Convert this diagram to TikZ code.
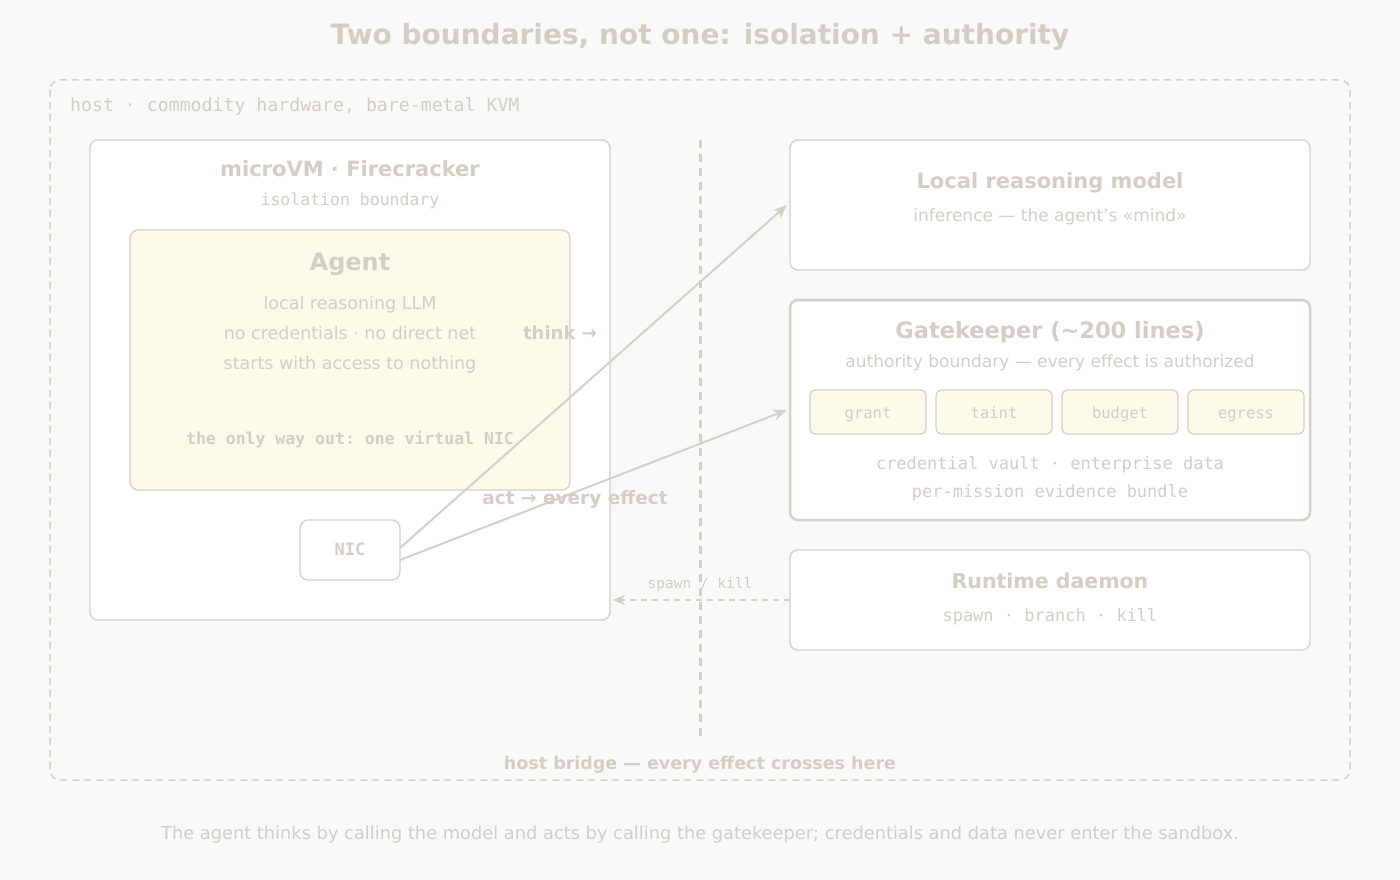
\documentclass[tikz,border=0pt]{standalone}
\usepackage{fontspec}
\setmainfont{DejaVu Sans}
\setsansfont{DejaVu Sans}
\setmonofont{DejaVu Sans Mono}
\usetikzlibrary{arrows.meta}
\definecolor{bg}{HTML}{F9F9F7}
\definecolor{ink}{HTML}{D2CEC4}
\definecolor{ln}{HTML}{D3D0C7}
\definecolor{cream}{HTML}{FCFBEA}
\begin{document}
\begin{tikzpicture}[x=1pt,y=-1pt,
  box/.style={draw=ln,line width=1.3pt,fill=white,rounded corners=8pt},
  t/.style={text=ink,inner sep=0pt,anchor=center,text height=0.72em,text depth=0.2em,yshift=-4pt},
  arr/.style={draw=ln,line width=2pt,-{Stealth[length=14pt,width=11pt]}}]
\useasboundingbox (0,0) rectangle (1400,880);
\fill[bg] (0,0) rectangle (1400,880);
\node[t,font=\bfseries\fontsize{28}{32}\selectfont] (title) at (700,38) {Two boundaries, not one: isolation + authority};
\draw[ln,line width=1.5pt,dash pattern=on 7pt off 5pt,rounded corners=10pt] (50,80) rectangle (1350,780);
\node[t,anchor=west,font=\ttfamily\fontsize{18.2}{20}\selectfont] (hostl) at (70,105) {host · commodity hardware, bare-metal KVM};
% vm
\draw[box] (90,140) rectangle (610,620);
\coordinate (vmE) at (613,600);
\node[t,font=\bfseries\fontsize{21}{24}\selectfont] (vmt) at (350,170) {microVM · Firecracker};
\node[t,font=\ttfamily\fontsize{16.5}{18}\selectfont] (vms) at (350,199) {isolation boundary};
\draw[box,fill=cream] (130,230) rectangle (570,490);
\node[t,font=\bfseries\fontsize{24}{28}\selectfont] (ag) at (350,264) {Agent};
\node[t,font=\fontsize{17.5}{20}\selectfont] (a1) at (350,303) {local reasoning LLM};
\node[t,font=\fontsize{17.5}{20}\selectfont] (a2) at (350,333) {no credentials · no direct net};
\node[t,font=\fontsize{17.5}{20}\selectfont] (a3) at (350,363) {starts with access to nothing};
\node[t,font=\ttfamily\bfseries\fontsize{16.5}{18}\selectfont] (a4) at (350,438) {the only way out: one virtual NIC};
\draw[box] (300,520) rectangle (400,580);
\node[t,font=\ttfamily\bfseries\fontsize{17}{20}\selectfont] (nic) at (350,549) {NIC};
\coordinate (n1) at (400,548);
\coordinate (n2) at (400,560);
% divider
\draw[ln,line width=3pt,dash pattern=on 8pt off 6pt] (700,140) -- (700,740);
% right boxes
\draw[box] (790,140) rectangle (1310,270);
\coordinate (lmW) at (787,205);
\node[t,font=\bfseries\fontsize{21}{24}\selectfont] (lm) at (1050,182) {Local reasoning model};
\node[t,font=\fontsize{17}{18}\selectfont] (lms) at (1050,215) {inference — the agent's «mind»};
\draw[box,line width=2.5pt] (790,300) rectangle (1310,520);
\coordinate (gkW) at (787,410);
\node[t,font=\bfseries\fontsize{22.5}{26}\selectfont] (gk) at (1050,332) {Gatekeeper (\textasciitilde200 lines)};
\node[t,font=\fontsize{17}{18}\selectfont] (gks) at (1050,361) {authority boundary — every effect is authorized};
\foreach \x/\n in {810/grant,936/taint,1062/budget,1188/egress}{
  \draw[box,fill=cream,rounded corners=6pt] (\x,390) rectangle (\x+116,434);
  \node[t,font=\ttfamily\fontsize{15.5}{18}\selectfont] (c\n) at (\x+58,412) {\n};
}
\node[t,font=\ttfamily\fontsize{17}{20}\selectfont] (g1) at (1050,463) {credential vault · enterprise data};
\node[t,font=\ttfamily\fontsize{17}{20}\selectfont] (g2) at (1050,491) {per-mission evidence bundle};
\draw[box] (790,550) rectangle (1310,650);
\coordinate (rdW) at (790,600);
\node[t,font=\bfseries\fontsize{20.5}{24}\selectfont] (rd) at (1050,582) {Runtime daemon};
\node[t,font=\ttfamily\fontsize{17}{20}\selectfont] (rds) at (1050,615) {spawn · branch · kill};
% arrows
\draw[arr] (n1) -- (lmW);
\draw[arr] (n2) -- (gkW);
\node[t,font=\bfseries\fontsize{18}{22}\selectfont] (think) at (560,333) {think →};
\node[t,font=\bfseries\fontsize{18.5}{22}\selectfont] (act) at (575,498) {act → every effect};
\draw[ln,line width=1.5pt,dash pattern=on 6pt off 5pt,-{Stealth[length=12pt,width=10pt]}] (rdW) -- (vmE);
\node[t,font=\ttfamily\fontsize{14.5}{16}\selectfont] (sk) at (700,582) {spawn / kill};
\node[t,font=\bfseries\fontsize{17.5}{20}\selectfont] (hb) at (700,763) {host bridge — every effect crosses here};
\node[t,font=\fontsize{17.8}{20}\selectfont] (cap) at (700,833) {The agent thinks by calling the model and acts by calling the gatekeeper; credentials and data never enter the sandbox.};
\end{tikzpicture}
\end{document}
